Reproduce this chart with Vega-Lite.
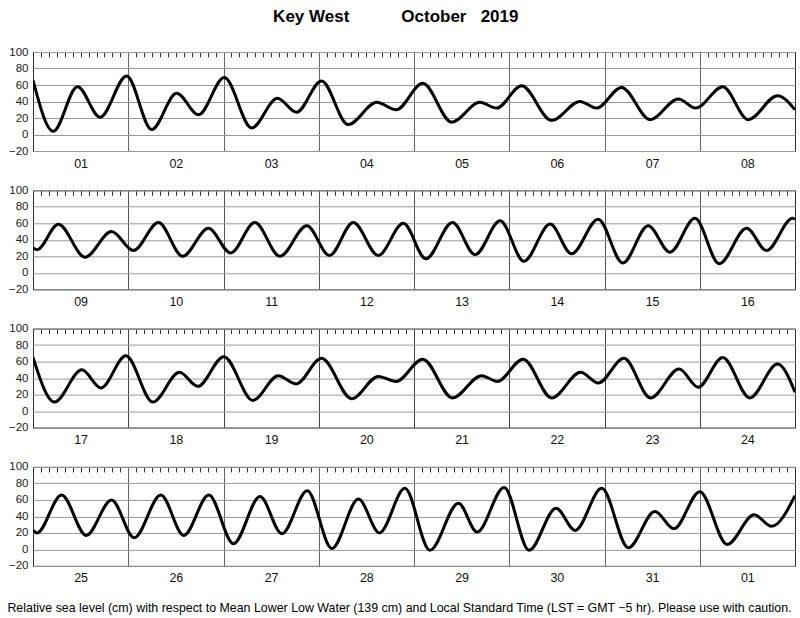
{
  "$schema": "https://vega.github.io/schema/vega-lite/v6.json",
  "padding": {"left": 6, "top": 7, "right": 5, "bottom": 0},
  "bounds": "flush",
  "spacing": 39.3,
  "background": "white",
  "config": {
    "font": "Liberation Sans",
    "view": {"stroke": "#222", "strokeWidth": 1},
    "axisX": {
      "title": null,
      "labelOverlap": false,
      "labelFlush": false,
      "labelFontSize": 12.5,
      "labelColor": "#111",
      "labelPadding": 6,
      "ticks": false,
      "tickSize": 0,
      "domain": false,
      "grid": true,
      "gridColor": "#333",
      "gridWidth": 1
    },
    "axisY": {
      "title": null,
      "grid": true,
      "gridColor": "#999",
      "ticks": false,
      "domain": false,
      "labelFontSize": 11.5,
      "labelColor": "#222",
      "labelPadding": 5
    }
  },
  "title": {
    "text": "Key West\u00a0\u00a0\u00a0\u00a0\u00a0\u00a0\u00a0\u00a0\u00a0\u00a0\u00a0October\u00a0\u00a0\u00a02019",
    "fontSize": 17,
    "fontWeight": "bold",
    "color": "#000",
    "anchor": "middle",
    "dx": -5,
    "offset": 20
  },
  "data": {"values": [
    {"t":0,"v":66},{"t":5.1,"v":4},{"t":11.2,"v":58},{"t":16.9,"v":21},{"t":23.6,"v":71},{"t":29.9,"v":6},{"t":36.2,"v":50},{"t":41.7,"v":24},
    {"t":48.2,"v":69},{"t":55.1,"v":8},{"t":61.6,"v":44},{"t":66.4,"v":27},{"t":72.7,"v":65},{"t":79.4,"v":12},{"t":86.6,"v":39},{"t":91.5,"v":30},
    {"t":98.2,"v":62},{"t":105.5,"v":15},{"t":112.6,"v":39},{"t":116.8,"v":32},{"t":123.1,"v":59},{"t":130.7,"v":17},{"t":137.8,"v":40},{"t":142.0,"v":32},
    {"t":148.3,"v":57},{"t":155.5,"v":18},{"t":162.6,"v":43},{"t":167.0,"v":32},{"t":173.8,"v":58},{"t":180.2,"v":18},{"t":187.6,"v":47},{"t":192,"v":30},
    {"t":193,"v":28},{"t":198.4,"v":59},{"t":205.1,"v":19},{"t":211.8,"v":50},{"t":217.3,"v":27},{"t":223.6,"v":61},{"t":229.7,"v":20},{"t":236.2,"v":54},
    {"t":241.8,"v":24},{"t":247.9,"v":61},{"t":254.2,"v":20},{"t":261.0,"v":57},{"t":266.7,"v":21},{"t":272.7,"v":61},{"t":279.0,"v":21},{"t":285.3,"v":60},
    {"t":291.0,"v":17},{"t":297.7,"v":61},{"t":303.4,"v":22},{"t":309.7,"v":63},{"t":315.7,"v":14},{"t":322.3,"v":59},{"t":327.7,"v":23},{"t":334.4,"v":65},
    {"t":340.6,"v":12},{"t":347.0,"v":57},{"t":352.5,"v":25},{"t":358.8,"v":66},{"t":364.9,"v":11},{"t":371.8,"v":54},{"t":376.8,"v":27},{"t":383.4,"v":66},
    {"t":384,"v":65},
    {"t":389.4,"v":11},{"t":396.3,"v":50},{"t":401.1,"v":28},{"t":407.4,"v":67},{"t":414.2,"v":11},{"t":420.9,"v":47},{"t":425.5,"v":30},{"t":432.1,"v":66},
    {"t":439.4,"v":13},{"t":445.8,"v":43},{"t":450.3,"v":33},{"t":456.7,"v":64},{"t":464.3,"v":15},{"t":471.0,"v":42},{"t":475.5,"v":36},{"t":482.2,"v":63},
    {"t":489.7,"v":16},{"t":497.0,"v":43},{"t":501.0,"v":36},{"t":507.5,"v":63},{"t":514.7,"v":16},{"t":522.0,"v":47},{"t":526.4,"v":34},{"t":532.9,"v":64},
    {"t":539.6,"v":16},{"t":546.8,"v":51},{"t":551.6,"v":29},{"t":557.8,"v":65},{"t":564.6,"v":16},{"t":571.6,"v":57},{"t":576,"v":23},
    {"t":577,"v":20},{"t":583.2,"v":66},{"t":589.4,"v":17},{"t":595.8,"v":60},{"t":601.5,"v":14},{"t":608.2,"v":66},{"t":614.0,"v":17},{"t":620.3,"v":66},
    {"t":626.5,"v":7},{"t":633.2,"v":64},{"t":638.7,"v":19},{"t":645.1,"v":71},{"t":651.3,"v":1},{"t":658.0,"v":61},{"t":663.3,"v":20},{"t":669.7,"v":74},
    {"t":676.0,"v":-1},{"t":683.2,"v":56},{"t":687.9,"v":21},{"t":694.7,"v":75},{"t":701.0,"v":-1},{"t":707.8,"v":50},{"t":712.6,"v":23},{"t":719.3,"v":74},
    {"t":726.0,"v":2},{"t":732.7,"v":46},{"t":737.5,"v":25},{"t":744.0,"v":70},{"t":750.9,"v":6},{"t":757.7,"v":42},{"t":762.1,"v":28},{"t":768,"v":65}
  ]},
  "vconcat": [
    {
      "width": 762, "height": 99,
      "transform": [{"filter": "datum.t >= 0 && datum.t <= 192"}],
      "mark": {"type": "line", "interpolate": "monotone", "color": "#000", "strokeWidth": 3, "clip": true},
      "encoding": {
        "x": {"field": "t", "type": "quantitative", "scale": {"domain": [0, 192], "nice": false, "zero": false},
          "axis": {"tickCount": 96,
            "labelExpr": "datum.value % 24 === 12 ? ((floor(datum.value/24) % 31 + 1) < 10 ? '0' : '') + (floor(datum.value/24) % 31 + 1) : ''",
            "gridDash": {"condition": {"test": "datum.value % 24 === 0", "value": [1, 0]}, "value": [5, 300]}}},
        "y": {"field": "v", "type": "quantitative", "scale": {"domain": [-20, 100], "nice": false},
          "axis": {"values": [-20, 0, 20, 40, 60, 80, 100]}}
      }
    },
    {
      "width": 762, "height": 99,
      "transform": [{"filter": "datum.t >= 192 && datum.t <= 384"}],
      "mark": {"type": "line", "interpolate": "monotone", "color": "#000", "strokeWidth": 3, "clip": true},
      "encoding": {
        "x": {"field": "t", "type": "quantitative", "scale": {"domain": [192, 384], "nice": false, "zero": false},
          "axis": {"tickCount": 96,
            "labelExpr": "datum.value % 24 === 12 ? ((floor(datum.value/24) % 31 + 1) < 10 ? '0' : '') + (floor(datum.value/24) % 31 + 1) : ''",
            "gridDash": {"condition": {"test": "datum.value % 24 === 0", "value": [1, 0]}, "value": [5, 300]}}},
        "y": {"field": "v", "type": "quantitative", "scale": {"domain": [-20, 100], "nice": false},
          "axis": {"values": [-20, 0, 20, 40, 60, 80, 100]}}
      }
    },
    {
      "width": 762, "height": 99,
      "transform": [{"filter": "datum.t >= 384 && datum.t <= 576"}],
      "mark": {"type": "line", "interpolate": "monotone", "color": "#000", "strokeWidth": 3, "clip": true},
      "encoding": {
        "x": {"field": "t", "type": "quantitative", "scale": {"domain": [384, 576], "nice": false, "zero": false},
          "axis": {"tickCount": 96,
            "labelExpr": "datum.value % 24 === 12 ? ((floor(datum.value/24) % 31 + 1) < 10 ? '0' : '') + (floor(datum.value/24) % 31 + 1) : ''",
            "gridDash": {"condition": {"test": "datum.value % 24 === 0", "value": [1, 0]}, "value": [5, 300]}}},
        "y": {"field": "v", "type": "quantitative", "scale": {"domain": [-20, 100], "nice": false},
          "axis": {"values": [-20, 0, 20, 40, 60, 80, 100]}}
      }
    },
    {
      "width": 762, "height": 99,
      "transform": [{"filter": "datum.t >= 576 && datum.t <= 768"}],
      "mark": {"type": "line", "interpolate": "monotone", "color": "#000", "strokeWidth": 3, "clip": true},
      "encoding": {
        "x": {"field": "t", "type": "quantitative", "scale": {"domain": [576, 768], "nice": false, "zero": false},
          "axis": {"tickCount": 96,
            "labelExpr": "datum.value % 24 === 12 ? ((floor(datum.value/24) % 31 + 1) < 10 ? '0' : '') + (floor(datum.value/24) % 31 + 1) : ''",
            "gridDash": {"condition": {"test": "datum.value % 24 === 0", "value": [1, 0]}, "value": [5, 300]},
            "title": "Relative sea level (cm) with respect to Mean Lower Low Water (139 cm) and Local Standard Time (LST = GMT \u22125 hr). Please use with caution.",
            "titleFontSize": 12.4,
            "titleFontWeight": "normal",
            "titleColor": "#000",
            "titleX": 366,
            "titleY": 36,
            "titleAnchor": "middle"
          }
        },
        "y": {"field": "v", "type": "quantitative", "scale": {"domain": [-20, 100], "nice": false},
          "axis": {"values": [-20, 0, 20, 40, 60, 80, 100]}}
      }
    }
  ]
}
